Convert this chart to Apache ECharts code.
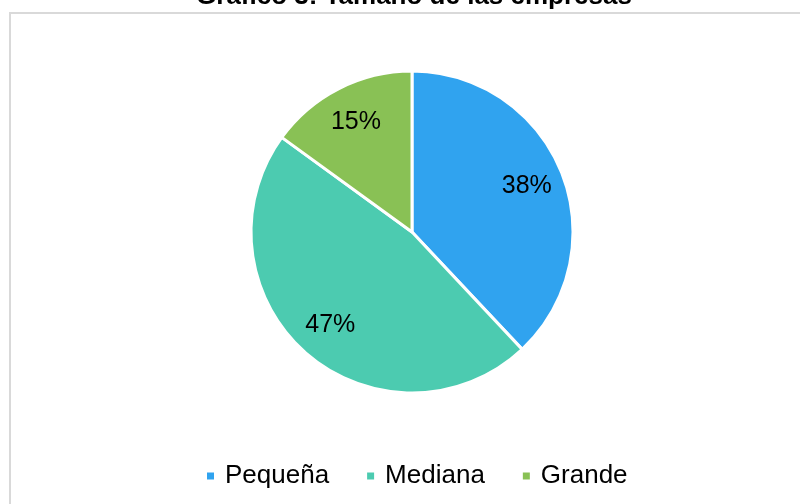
<!DOCTYPE html>
<html lang="es">
<head>
<meta charset="UTF-8">
<title>Tamaño de las empresas</title>
<script src="https://cdn.jsdelivr.net/npm/echarts@6/dist/echarts.min.js"></script>
<style>
html, body { margin: 0; padding: 0; background: #fff; }
#chart { width: 800px; height: 504px; }
</style>
</head>
<body>
<div id="chart"></div>
<script>
var categorias = ['Pequeña', 'Mediana', 'Grande'];
var porcentajes = [38, 47, 15];
var colores = ['#30a3ef', '#4ccbb0', '#89c155'];

var datos = categorias.map(function (n, i) {
  return { name: n, value: porcentajes[i] };
});

var chart = echarts.init(document.getElementById('chart'));
var font = 'Liberation Sans, Arial, sans-serif';

var option = {
  backgroundColor: '#fff',
  animation: false,
  color: colores,
  // borde del área del gráfico (recortado a la derecha y abajo)
  graphic: [{
    type: 'rect',
    shape: { x: 10, y: 13, width: 820, height: 520 },
    style: { fill: 'none', stroke: '#d9d9d9', lineWidth: 2 },
    z: 0
  }],
  title: {
    text: 'Gráfico 3: Tamaño de las empresas',
    left: 414,
    textAlign: 'center',
    top: -16,
    padding: 0,
    textStyle: { fontFamily: font, fontSize: 26, fontWeight: 'bold', color: '#000' }
  },
  legend: {
    top: 463,
    left: 205,
    padding: 0,
    icon: 'rect',
    itemWidth: 9,
    itemHeight: 9,
    itemGap: 36,
    data: categorias,
    textStyle: { fontFamily: font, fontSize: 26, color: '#000', padding: [0, 0, 0, 5] }
  },
  series: [{
    type: 'pie',
    center: [412, 232],
    radius: [0, 161],
    startAngle: 90,
    clockwise: true,
    data: datos,
    label: { show: false },
    labelLine: { show: false },
    emphasis: { disabled: true },
    itemStyle: { borderColor: '#fff', borderWidth: 3 }
  }, {
    // serie transparente solo para colocar las etiquetas a ~3/4 del radio
    type: 'pie',
    center: [412, 232],
    radius: [80, 161],
    startAngle: 90,
    clockwise: true,
    silent: true,
    data: datos,
    itemStyle: { color: 'transparent', borderWidth: 0 },
    emphasis: { disabled: true },
    labelLine: { show: false },
    label: {
      show: true,
      position: 'inside',
      formatter: '{c}%',
      fontFamily: font,
      fontSize: 25,
      color: '#000'
    }
  }]
};
chart.setOption(option);
</script>
</body>
</html>
